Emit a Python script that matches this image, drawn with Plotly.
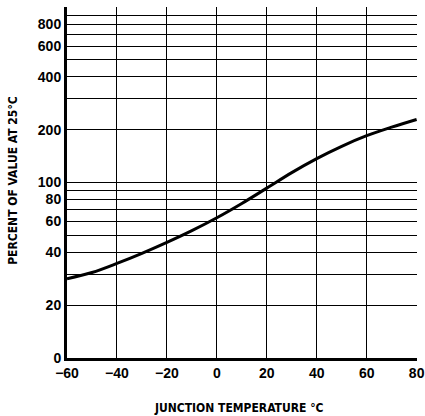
import plotly.graph_objects as go

temp_c = [-60, -50, -40, -30, -20, -10, 0, 10, 20, 30, 40, 50, 60, 70, 80]
percent = [28.3, 30.7, 34.6, 39.5, 45.6, 53.2, 63, 76, 93, 114, 137, 161, 185, 207, 229]

x_ticks = [-60, -40, -20, 0, 20, 40, 60, 80]
x_ticktext = ["\u221260", "\u221240", "\u221220", "0", "20", "40", "60", "80"]
y_ticks = [10, 20, 40, 60, 80, 100, 200, 400, 600, 800]
y_ticktext = ["0", "20", "40", "60", "80", "100", "200", "400", "600", "800"]
y_minor = [30, 50, 70, 90, 300, 500, 700, 900, 1000]

tick_font = "Liberation Sans, Arial, sans-serif"
title_font = "Liberation Sans Narrow, Arial Narrow, DejaVu Sans Condensed, sans-serif"

fig = go.Figure()
fig.add_trace(go.Scatter(
    x=temp_c, y=percent, mode="lines",
    line=dict(color="black", width=3, shape="spline", smoothing=1.0),
    showlegend=False, hoverinfo="skip",
))

fig.update_layout(
    width=425, height=416,
    margin=dict(l=67, r=8, t=7, b=58),
    paper_bgcolor="white", plot_bgcolor="white",
    font=dict(family=tick_font, color="black", size=13),
    annotations=[
        dict(text="<b>JUNCTION TEMPERATURE \u00b0C</b>", xref="paper", yref="paper",
             x=0.49, y=-0.1425, xanchor="center", yanchor="middle", showarrow=False,
             font=dict(family=title_font, size=12, color="black")),
        dict(text="<b>PERCENT OF VALUE AT 25\u00b0C</b>", xref="paper", yref="paper",
             x=-0.155, y=0.507, xanchor="center", yanchor="middle", showarrow=False,
             textangle=-90, font=dict(family=title_font, size=12, color="black")),
    ],
)
fig.update_xaxes(
    range=[-60, 80.15], tickvals=x_ticks, ticktext=x_ticktext, automargin=False,
    showgrid=True, gridcolor="black", gridwidth=1.2,
    showline=True, linecolor="black", linewidth=3,
    ticks="", ticklen=0, zeroline=False,
    tickfont=dict(family=tick_font, size=14, color="black", weight="bold"),
)
fig.update_yaxes(
    type="log", range=[1, 3.0008], tickvals=y_ticks, ticktext=y_ticktext, automargin=False,
    showgrid=True, gridcolor="black", gridwidth=1.2,
    minor=dict(tickvals=y_minor, showgrid=True, gridcolor="black", gridwidth=1.2, ticks=""),
    showline=True, linecolor="black", linewidth=3,
    ticks="", zeroline=False,
    tickfont=dict(family=tick_font, size=14, color="black", weight="bold"),
)

# remove the browser's default 8px body margin so the figure fills the window exactly
fig.write_html("out.html", config={"displayModeBar": False},
               post_script="document.body.style.margin='0';")
